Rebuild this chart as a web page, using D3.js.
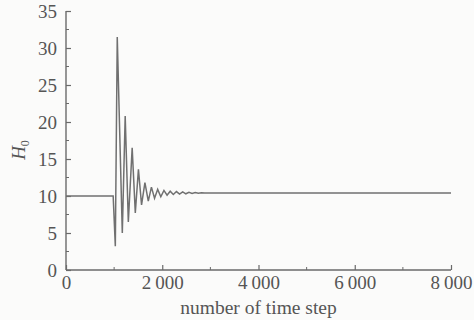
<!doctype html>
<html lang=en>
<head>
<meta charset="utf-8">
<title>H0 vs time step</title>
<style>
body { margin: 0; background: #fbfbfa; }
svg { display: block; }
text { font-family: "Liberation Serif", "Times New Roman", "DejaVu Serif", serif; fill: #555; }
</style>
</head>
<body>
<div id=content></div>
<script src="https://cdn.jsdelivr.net/npm/d3@7"></script>
<script>
var steps = [0, 980, 1025, 1065, 1170, 1230, 1295, 1375, 1440, 1505, 1570, 1640, 1710, 1775,
             1840, 1905, 1970, 2035, 2100, 2165, 2230, 2295, 2360, 2425, 2490, 2555, 2620,
             2685, 2750, 2815, 2880, 8000];
var h0 = [10, 10, 3.2, 31.5, 5.0, 20.8, 6.5, 16.5, 7.7, 13.6, 8.8, 11.8, 9.3, 11.2,
          9.7, 10.9, 9.9, 10.75, 10.1, 10.65, 10.2, 10.6, 10.25, 10.55, 10.3, 10.5, 10.35,
          10.48, 10.38, 10.45, 10.4, 10.4];
var xTicks = [0, 2000, 4000, 6000, 8000];
var xMinor = [1000, 3000, 5000, 7000];
var yTicks = [0, 5, 10, 15, 20, 25, 30, 35];
var yMinor = [2.5, 7.5, 12.5, 17.5, 22.5, 27.5, 32.5];

var W = 474, H = 320;
//        t   r   b   l
var m = [11, 23, 50, 66];
var w = W - m[1] - m[3], h = H - m[0] - m[2];

var svg = d3.select("#content").append("svg")
  .attr("width", W).attr("height", H);
var plt = svg.append("g").attr("transform", "translate(" + m[3] + "," + m[0] + ")");

var x = d3.scaleLinear().domain([0, 8000]).range([0, w]);
var y = d3.scaleLinear().domain([0, 35]).range([h, 0]);

var fmt = function(d){ return d >= 1000 ? d3.format("d")(d).replace(/(\d)(\d{3})$/, "$1\u2009$2") : d; };

var axisCol = "#6a6a6a";
var serif = '"Liberation Serif", "Times New Roman", "DejaVu Serif", serif';

// x axis, ticks pointing inward
var gx = plt.append("g").attr("transform", "translate(0," + h + ")")
  .call(d3.axisBottom(x).tickValues(xTicks).tickSize(-5).tickPadding(6).tickFormat(fmt));
gx.append("g").selectAll("line").data(xMinor).join("line")
  .attr("x1", d => x(d)).attr("x2", d => x(d)).attr("y1", 0).attr("y2", -3)
  .attr("stroke", axisCol);

// y axis
var gy = plt.append("g")
  .call(d3.axisLeft(y).tickValues(yTicks).tickSize(-5).tickPadding(9));
gy.append("g").selectAll("line").data(yMinor).join("line")
  .attr("y1", d => y(d)).attr("y2", d => y(d)).attr("x1", 0).attr("x2", 3)
  .attr("stroke", axisCol);

[gx, gy].forEach(function(g){
  g.attr("font-family", null);
  g.select(".domain").attr("stroke", axisCol).attr("stroke-width", 1.4);
  g.selectAll(".tick line").attr("stroke", axisCol).attr("stroke-width", 1.2);
  g.selectAll("text").style("font-family", serif)
    .attr("font-size", 19).attr("fill", "#555");
});
gy.select(".domain").attr("d", "M0," + h + "V0");
gx.select(".domain").attr("d", "M0,0H" + w);

// data line
var line = d3.line().x((d, i) => x(steps[i])).y(d => y(d));
plt.append("path").datum(h0)
  .attr("d", line)
  .attr("fill", "none")
  .attr("stroke", "#707070")
  .attr("stroke-width", 1.5);

// axis titles
svg.append("text")
  .style("font-family", serif)
  .attr("x", m[3] + w / 2 + 0).attr("y", 314)
  .attr("text-anchor", "middle").attr("font-size", 19.5)
  .text("number of time step");

var yl = svg.append("text")
  .style("font-family", serif)
  .attr("transform", "translate(25,150) rotate(-90)")
  .attr("text-anchor", "middle").attr("font-size", 19);
yl.append("tspan").attr("font-style", "italic").text("H");
yl.append("tspan").attr("font-size", 12).attr("dy", 4).text("0");
</script>
</body>
</html>
